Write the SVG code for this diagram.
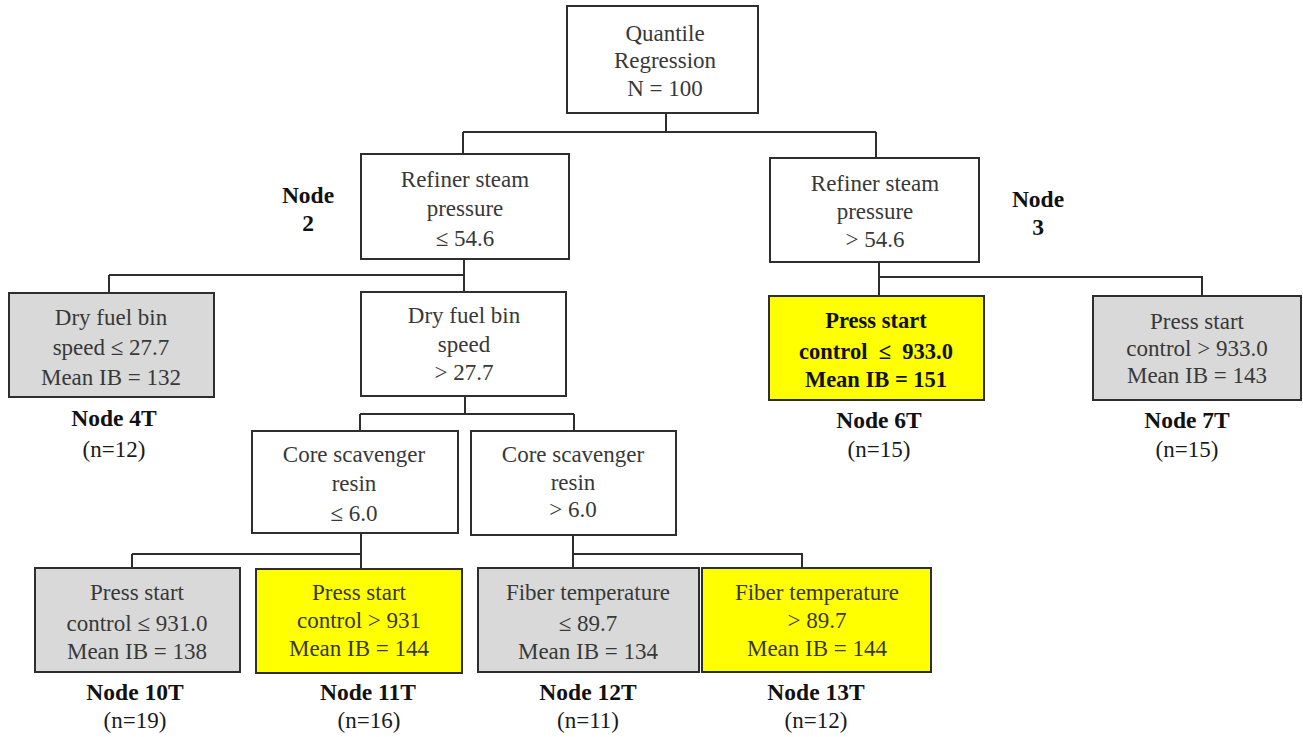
<svg xmlns="http://www.w3.org/2000/svg" width="1303" height="737" viewBox="0 0 1303 737">
<style>
.box{stroke:#2e2e2e;stroke-width:2;fill:#ffffff}
.gray{fill:#d9d9d9}
.yel{fill:#ffff00}
.t{font-family:"Liberation Serif","Times New Roman",serif;font-size:23px;fill:#383838;text-anchor:middle}
.tb{font-family:"Liberation Serif","Times New Roman",serif;font-size:23.5px;font-weight:bold;fill:#111111;text-anchor:middle}
.bx{font-size:22.5px}
.dk{fill:#1a1a1a}
.con{stroke:#2e2e2e;stroke-width:2;fill:none}
</style>
<rect width="1303" height="737" fill="#ffffff"/>
<g id="connectors">
<path class="con" d="M666,113V132M463,132H876M463,132V154M876,132V158"/>
<path class="con" d="M464,259V292M109,275H464M109,275V293"/>
<path class="con" d="M879,262V296M879,277H1202V296"/>
<path class="con" d="M465,396V414M360,414H574M360,414V431M574,414V431"/>
<path class="con" d="M361,533V569M132,554H361M132,554V568"/>
<path class="con" d="M573,535V568M573,554H802V568"/>
</g>
<g id="root">
<rect class="box" x="567" y="6" width="191" height="107"/>
<text class="t" x="665" y="41">Quantile</text>
<text class="t" x="665" y="68">Regression</text>
<text class="t" x="665" y="96">N = 100</text>
</g>
<g id="node2">
<rect class="box" x="361" y="154" width="208" height="105"/>
<text class="t" x="465" y="187">Refiner steam</text>
<text class="t" x="465" y="216">pressure</text>
<text class="t" x="465" y="246">≤ 54.6</text>
<text class="tb" x="308" y="203">Node</text>
<text class="tb" x="308" y="231">2</text>
</g>
<g id="node3">
<rect class="box" x="770" y="158" width="209" height="104"/>
<text class="t" x="875" y="191">Refiner steam</text>
<text class="t" x="875" y="219">pressure</text>
<text class="t" x="875" y="247">&gt; 54.6</text>
<text class="tb" x="1038" y="207">Node</text>
<text class="tb" x="1038" y="235">3</text>
</g>
<g id="node4T">
<rect class="box gray" x="9" y="293" width="205" height="104"/>
<text class="t" x="111" y="325">Dry fuel bin</text>
<text class="t" x="111" y="355">speed ≤ 27.7</text>
<text class="t" x="111" y="385">Mean IB = 132</text>
<text class="tb" x="114" y="426">Node 4T</text>
<text class="t dk" x="114" y="457">(n=12)</text>
</g>
<g id="node5">
<rect class="box" x="361" y="292" width="205" height="104"/>
<text class="t" x="464" y="323">Dry fuel bin</text>
<text class="t" x="464" y="352">speed</text>
<text class="t" x="464" y="380">&gt; 27.7</text>
</g>
<g id="node6T">
<rect class="box yel" x="769" y="296" width="215" height="104"/>
<text class="tb bx" x="876" y="328">Press start</text>
<text class="tb bx" x="876" y="359" xml:space="preserve">control  ≤  933.0</text>
<text class="tb bx" x="876" y="387">Mean IB = 151</text>
<text class="tb" x="879" y="428">Node 6T</text>
<text class="t dk" x="879" y="457">(n=15)</text>
</g>
<g id="node7T">
<rect class="box gray" x="1093" y="296" width="208" height="104"/>
<text class="t" x="1197" y="329">Press start</text>
<text class="t" x="1197" y="356">control &gt; 933.0</text>
<text class="t" x="1197" y="383">Mean IB = 143</text>
<text class="tb" x="1187" y="428">Node 7T</text>
<text class="t dk" x="1187" y="457">(n=15)</text>
</g>
<g id="node8">
<rect class="box" x="252" y="431" width="206" height="102"/>
<text class="t" x="354" y="462">Core scavenger</text>
<text class="t" x="354" y="491">resin</text>
<text class="t" x="354" y="521">≤ 6.0</text>
</g>
<g id="node9">
<rect class="box" x="471" y="431" width="205" height="104"/>
<text class="t" x="573" y="462">Core scavenger</text>
<text class="t" x="573" y="490">resin</text>
<text class="t" x="573" y="517">&gt; 6.0</text>
</g>
<g id="node10T">
<rect class="box gray" x="35" y="568" width="205" height="104"/>
<text class="t" x="137" y="600">Press start</text>
<text class="t" x="137" y="631">control ≤ 931.0</text>
<text class="t" x="137" y="659">Mean IB = 138</text>
<text class="tb" x="135" y="700">Node 10T</text>
<text class="t dk" x="135" y="728">(n=19)</text>
</g>
<g id="node11T">
<rect class="box yel" x="256" y="569" width="206" height="104"/>
<text class="t" x="359" y="600">Press start</text>
<text class="t" x="359" y="628">control &gt; 931</text>
<text class="t" x="359" y="656">Mean IB = 144</text>
<text class="tb" x="368" y="700">Node 11T</text>
<text class="t dk" x="369" y="728">(n=16)</text>
</g>
<g id="node12T">
<rect class="box gray" x="478" y="568" width="221" height="104"/>
<text class="t" x="588" y="600">Fiber temperature</text>
<text class="t" x="588" y="631">≤ 89.7</text>
<text class="t" x="588" y="659">Mean IB = 134</text>
<text class="tb" x="588" y="700">Node 12T</text>
<text class="t dk" x="588" y="728">(n=11)</text>
</g>
<g id="node13T">
<rect class="box yel" x="702" y="568" width="229" height="104"/>
<text class="t" x="817" y="600">Fiber temperature</text>
<text class="t" x="817" y="628">&gt; 89.7</text>
<text class="t" x="817" y="656">Mean IB = 144</text>
<text class="tb" x="816" y="700">Node 13T</text>
<text class="t dk" x="816" y="728">(n=12)</text>
</g>
</svg>
